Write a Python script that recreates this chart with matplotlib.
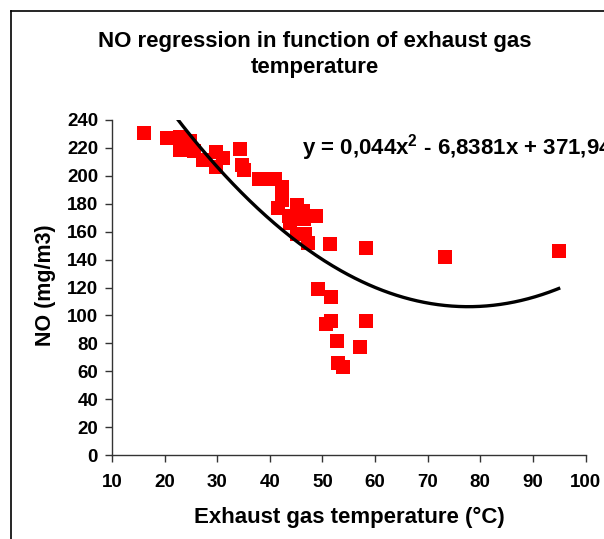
import matplotlib
matplotlib.use("Agg")
import matplotlib.pyplot as plt
import numpy as np
from matplotlib.lines import Line2D

plt.rcParams['font.family'] = ['Liberation Sans', 'DejaVu Sans']
plt.rcParams['font.weight'] = 'bold'
plt.rcParams['mathtext.default'] = 'regular'

# Data
temp = [16.1, 20.4, 22.9, 24.8, 22.9, 25.5, 24.4, 27.3, 29.8, 31.1, 29.7, 34.3,
        34.7, 35.0, 38.0, 39.5, 41.0, 42.3, 42.3, 41.6, 45.1, 43.7, 43.9, 46.3,
        48.7, 46.5, 45.1, 46.7, 47.2, 51.4, 58.3, 49.2, 51.7, 51.7, 50.7, 58.3,
        52.8, 57.2, 52.9, 54.0, 73.2, 94.9]
no_conc = [231, 227, 228, 225, 218.5, 218, 219, 211, 217, 213, 206, 219,
           208, 204, 198, 198, 198, 192, 183, 177, 179, 171, 166, 175,
           171, 169, 158, 158, 152, 151, 148.5, 119, 113, 96, 94, 96,
           82, 77.5, 66, 63, 142, 146]

# Trendline coefficients shown on chart: y = a x^2 + b x + c
coef_a, coef_b, coef_c = 0.044, -6.8381, 371.94
equation_label = "y = 0,044x$^{2}$ - 6,8381x + 371,94"

x_ticks = [10, 20, 30, 40, 50, 60, 70, 80, 90, 100]
y_ticks = [0, 20, 40, 60, 80, 100, 120, 140, 160, 180, 200, 220, 240]

W, H = 604, 539
fig = plt.figure(figsize=(W / 100, H / 100), dpi=100)
fig.patch.set_facecolor('white')

ax = fig.add_axes([112 / W, 1 - 455 / H, (585.5 - 112) / W, 335 / H])
ax.set_xlim(10, 100)
ax.set_ylim(0, 240)

ax.scatter(temp, no_conc, marker='s', s=110, color='#FF0000', linewidths=0, zorder=2)

xf = np.linspace(min(temp), max(temp), 300)
yf = coef_a * xf ** 2 + coef_b * xf + coef_c
ax.plot(xf, yf, color='black', lw=2.4, zorder=3)

for s in ['top', 'right']:
    ax.spines[s].set_visible(False)
for s in ['left', 'bottom']:
    ax.spines[s].set_color('#333333')
    ax.spines[s].set_linewidth(1.0)

ax.set_xticks(x_ticks)
ax.set_yticks(y_ticks)
ax.tick_params(axis='both', direction='out', length=5, width=1, color='#333333',
               labelsize=13.5, pad=5)
ax.tick_params(axis='x', pad=9)
for lab in ax.get_xticklabels() + ax.get_yticklabels():
    lab.set_fontweight('bold')

fig.text(349 / W, 1 - 517 / H, "Exhaust gas temperature (\u00b0C)", ha='center', va='center',
         fontsize=16, fontweight='bold')
fig.text(45 / W, 1 - 285 / H, "NO (mg/m3)", ha='center', va='center', rotation=90,
         fontsize=15.5, fontweight='bold')
fig.text(315 / W, 1 - 42 / H, "NO regression in function of exhaust gas",
         ha='center', va='center', fontsize=16, fontweight='bold')
fig.text(315 / W, 1 - 67 / H, "temperature",
         ha='center', va='center', fontsize=16, fontweight='bold')
fig.text(302 / W, 1 - 148 / H, equation_label, ha='left', va='center',
         fontsize=16, fontweight='bold')

# chart area frame (cropped at right/bottom)
fig.add_artist(Line2D([11 / W, 11 / W], [0, 1 - 11 / H], transform=fig.transFigure,
                      color='black', lw=1.2))
fig.add_artist(Line2D([11 / W, 1], [1 - 11 / H, 1 - 11 / H], transform=fig.transFigure,
                      color='black', lw=1.2))

fig.savefig("out.png", dpi=100)
